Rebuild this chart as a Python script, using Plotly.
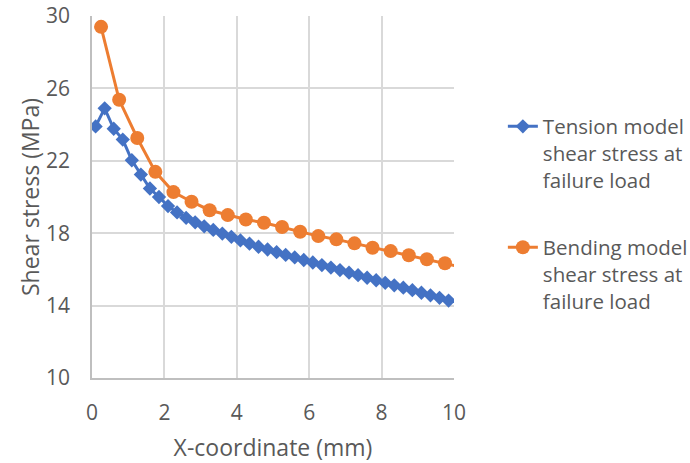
import plotly.graph_objects as go

tension_x = [0.1, 0.35, 0.6, 0.85, 1.1, 1.35, 1.6, 1.85, 2.1, 2.35, 2.6, 2.85, 3.1, 3.35, 3.6, 3.85,
             4.1, 4.35, 4.6, 4.85, 5.1, 5.35, 5.6, 5.85, 6.1, 6.35, 6.6, 6.85, 7.1, 7.35, 7.6, 7.85,
             8.1, 8.35, 8.6, 8.85, 9.1, 9.35, 9.6, 9.85]
tension_y = [23.9, 24.9, 23.77, 23.17, 22.03, 21.24, 20.47, 20.0, 19.5, 19.15, 18.85, 18.6, 18.38, 18.18, 17.98, 17.8,
             17.6, 17.42, 17.25, 17.1, 16.95, 16.8, 16.66, 16.52, 16.38, 16.24, 16.1, 15.96, 15.82, 15.68, 15.54, 15.4,
             15.26, 15.12, 14.99, 14.85, 14.71, 14.57, 14.43, 14.28]

bending_x = [0.25, 0.75, 1.25, 1.75, 2.25, 2.75, 3.25, 3.75, 4.25, 4.75, 5.25, 5.75, 6.25, 6.75, 7.25,
             7.75, 8.25, 8.75, 9.25, 9.75, 10.25]
bending_y = [29.4, 25.37, 23.26, 21.39, 20.27, 19.74, 19.27, 19.0, 18.76, 18.58, 18.34, 18.08, 17.84, 17.66, 17.44,
             17.2, 17.01, 16.78, 16.56, 16.34, 16.1]

x_ticks = [0, 2, 4, 6, 8, 10]
y_ticks = [10, 14, 18, 22, 26, 30]

FONT = "Open Sans"
GREY = "#595959"

fig = go.Figure()
fig.add_trace(go.Scatter(
    x=tension_x, y=tension_y, mode="lines+markers",
    name="Tension model<br>shear stress at<br>failure load", legendgroup="tension",
    line=dict(color="#4472C4", width=3),
    marker=dict(symbol="diamond", size=11, color="#4472C4"),
))
fig.add_trace(go.Scatter(
    x=bending_x, y=bending_y, mode="lines+markers",
    name="Bending model<br>shear stress at<br>failure load", legendgroup="bending",
    line=dict(color="#ED7D31", width=3),
    marker=dict(symbol="circle", size=14, color="#ED7D31"),
))

fig.update_layout(
    width=690, height=463,
    margin=dict(l=92, r=236, t=16, b=85, autoexpand=False),
    paper_bgcolor="white", plot_bgcolor="white",
    font=dict(family=FONT, color=GREY, size=20),
    showlegend=True,
    legend=dict(x=1.135, y=0.75, xanchor="left", yanchor="top", valign="top",
                font=dict(family=FONT, size=20.5, color=GREY),
                tracegroupgap=38, bgcolor="rgba(0,0,0,0)"),
)
fig.update_xaxes(range=[0, 10], tickvals=x_ticks, ticktext=[str(v) for v in x_ticks],
                 showgrid=True, gridcolor="#d9d9d9", gridwidth=1.5,
                 showline=True, linecolor="#bfbfbf", linewidth=1.5,
                 zeroline=False, ticks="", automargin=False, ticklabelstandoff=15,
                 ticklabeloverflow="allow",
                 tickfont=dict(size=21, color=GREY),
                 title=dict(text="X-coordinate (mm)", font=dict(size=23, color=GREY), standoff=16))
fig.update_yaxes(range=[10, 30], tickvals=y_ticks, ticktext=[str(v) for v in y_ticks],
                 showgrid=True, gridcolor="#d9d9d9", gridwidth=1.5,
                 showline=True, linecolor="#bfbfbf", linewidth=1.5,
                 zeroline=False, ticks="", automargin=False, ticklabelstandoff=16,
                 ticklabeloverflow="allow",
                 tickfont=dict(size=21, color=GREY),
                 title=dict(text="Shear stress (MPa)", font=dict(size=23, color=GREY), standoff=0))

fig.write_html("out.html", config={"displayModeBar": False},
               post_script="document.body.style.margin='0';")
